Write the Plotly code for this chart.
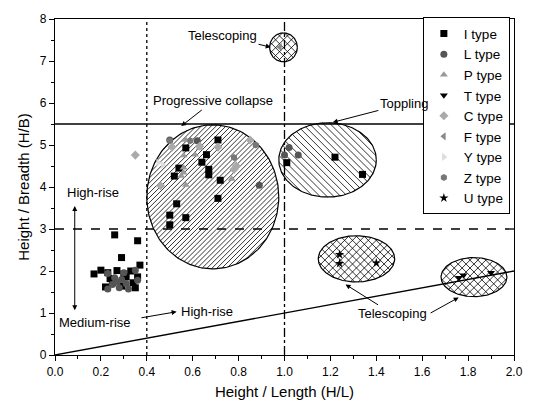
import numpy as np
import plotly.graph_objects as go

# ---------------- data ----------------
I_x = [0.26, 0.36, 0.29, 0.37, 0.17, 0.20, 0.23, 0.27, 0.31, 0.34, 0.25, 0.29, 0.22, 0.35, 0.30, 0.36, 0.33, 0.24,
       0.71, 0.57, 0.66, 0.64, 0.54, 0.67, 0.52, 0.67, 0.72, 0.71, 0.53, 0.50, 0.57, 0.50,
       1.01, 1.22, 1.34]
I_y = [2.86, 2.72, 2.32, 2.14, 1.93, 2.02, 1.96, 2.01, 1.86, 1.72, 1.72, 1.64, 1.62, 1.60, 1.93, 1.86, 2.00, 1.82,
       5.12, 4.93, 4.77, 4.59, 4.45, 4.42, 4.26, 4.29, 4.16, 3.73, 3.60, 3.33, 3.27, 3.10,
       4.58, 4.71, 4.30]
L_x = [0.23, 0.30, 0.35, 0.25, 0.28, 0.32, 0.23, 0.36, 0.29, 0.26, 0.31, 0.27,
       0.50, 0.62, 0.89, 1.02, 1.00, 1.06]
L_y = [1.94, 1.96, 2.02, 1.68, 1.60, 1.57, 1.57, 1.78, 1.80, 1.84, 1.70, 1.74,
       5.12, 5.10, 4.04, 4.94, 4.76, 4.76]
P_x = [0.57, 0.61, 0.56, 0.56, 0.56, 0.77, 0.63, 0.55, 0.57]
P_y = [5.12, 4.77, 4.75, 4.46, 4.34, 4.19, 4.93, 4.26, 4.05]
T_x = [1.76, 1.90, 1.78]
T_y = [1.84, 1.96, 1.90]
C_x = [0.35, 0.46, 0.51, 0.71, 0.63, 0.85, 0.78, 0.79]
C_y = [4.76, 4.03, 4.95, 4.95, 4.97, 5.12, 4.42, 4.50]
F_x = [0.98]
F_y = [7.33]
Y_x = [0.45, 0.47]
Y_y = [4.58, 4.52]
Z_x = [0.59, 0.78, 0.875, 0.50]
Z_y = [5.10, 4.70, 5.00, 5.10]
U_x = [1.24, 1.24, 1.40]
U_y = [2.39, 2.18, 2.19]

# region ellipses: (x0, x1, y0, y1, hatch slopes, hatch spacing in px)
regions = [
    (0.40, 0.975, 2.05, 5.48, [1], 5),
    (0.975, 1.40, 3.76, 5.53, [-1], 7),
    (0.935, 1.056, 6.98, 7.67, [1, -1], 8),
    (1.147, 1.48, 1.74, 2.84, [1, -1], 8),
    (1.682, 1.969, 1.39, 2.32, [1, -1], 8),
]

W, H = 535, 412
ML, MR, MT, MB = 55, 15, 14, 57
XR, YR = [0, 2], [0, 8]
PX = (W - ML - MR) / (XR[1] - XR[0])   # pixels per x unit
PY = (H - MT - MB) / (YR[1] - YR[0])   # pixels per y unit

FONT = "Arial, Liberation Sans, sans-serif"
fig = go.Figure()

t = np.linspace(0, 2 * np.pi, 200)
for x0, x1, y0, y1, slopes, sp in regions:
    cx, cy, rx, ry = (x0 + x1) / 2, (y0 + y1) / 2, (x1 - x0) / 2, (y1 - y0) / 2
    fig.add_trace(go.Scatter(
        x=cx + rx * np.cos(t), y=cy + ry * np.sin(t), mode="lines",
        fill="toself", fillcolor="white",
        line=dict(color="black", width=1.2), showlegend=False, hoverinfo="skip"))
    # hatch lines clipped to ellipse (computed in pixel space)
    Rx, Ry = rx * PX, ry * PY
    hx, hy = [], []
    for m in slopes:
        cmax = np.sqrt(Rx ** 2 * m ** 2 + Ry ** 2)
        for c in np.arange(-cmax + sp / 2, cmax, sp):
            A = 1 / Rx ** 2 + m ** 2 / Ry ** 2
            B = 2 * m * c / Ry ** 2
            Cq = c ** 2 / Ry ** 2 - 1
            disc = B ** 2 - 4 * A * Cq
            if disc <= 0:
                continue
            for X in ((-B - np.sqrt(disc)) / (2 * A), (-B + np.sqrt(disc)) / (2 * A)):
                hx.append(cx + X / PX)
                hy.append(cy + (m * X + c) / PY)
            hx.append(None)
            hy.append(None)
    fig.add_trace(go.Scatter(x=hx, y=hy, mode="lines", line=dict(color="black", width=0.8),
                             showlegend=False, hoverinfo="skip"))

# reference lines
fig.add_trace(go.Scatter(x=[0, 2], y=[5.5, 5.5], mode="lines", line=dict(color="black", width=1.3), showlegend=False))
fig.add_trace(go.Scatter(x=[0, 2], y=[3, 3], mode="lines", line=dict(color="black", width=1.3, dash="dash"), showlegend=False))
fig.add_trace(go.Scatter(x=[0.4, 0.4], y=[0, 8], mode="lines", line=dict(color="black", width=1.3, dash="dot"), showlegend=False))
fig.add_trace(go.Scatter(x=[1.0, 1.0], y=[0, 8], mode="lines", line=dict(color="black", width=1.3, dash="dashdot"), showlegend=False))
fig.add_trace(go.Scatter(x=[0, 2], y=[0, 2], mode="lines", line=dict(color="black", width=1.3), showlegend=False))

series = [
    ("I type", I_x, I_y, "square", "black"),
    ("L type", L_x, L_y, "circle", "#555555"),
    ("P type", P_x, P_y, "triangle-up", "#999999"),
    ("T type", T_x, T_y, "triangle-down", "black"),
    ("C type", C_x, C_y, "diamond", "#aaaaaa"),
    ("F type", F_x, F_y, "triangle-left", "#888888"),
    ("Y type", Y_x, Y_y, "triangle-right", "#dddddd"),
    ("Z type", Z_x, Z_y, "hexagon", "#777777"),
    ("U type", U_x, U_y, "star", "black"),
]
for name, xs, ys, sym, col in series:
    fig.add_trace(go.Scatter(x=xs, y=ys, mode="markers", name=name,
                             marker=dict(symbol=sym, color=col, size=7, line=dict(width=0))))

ann_font = dict(family=FONT, size=13, color="black")
anns = [
    dict(text="Telescoping", x=0.94, y=7.33, ax=0.73, ay=7.6),
    dict(text="Progressive collapse", x=0.55, y=5.45, ax=0.69, ay=6.05),
    dict(text="Toppling", x=1.21, y=5.54, ax=1.52, ay=5.98),
    dict(text="Telescoping", x=1.266, y=1.68, ax=1.47, ay=0.98),
    dict(text="", x=1.759, y=1.37, ax=1.63, ay=0.98),
]
for a in anns:
    fig.add_annotation(text=a["text"], x=a["x"], y=a["y"], ax=a["ax"], ay=a["ay"],
                       axref="x", ayref="y", xref="x", yref="y", showarrow=True,
                       arrowhead=2, arrowsize=1, arrowwidth=1, arrowcolor="black",
                       font=ann_font, bgcolor="rgba(255,255,255,0)")

# high-rise / medium-rise
fig.add_annotation(text="", x=0.086, y=3.55, ax=0.086, ay=1.03, axref="x", ayref="y",
                   showarrow=True, arrowhead=2, arrowside="end+start", arrowwidth=1, arrowcolor="black")
fig.add_annotation(text="High-rise", x=0.165, y=3.88, showarrow=False, font=ann_font)
fig.add_annotation(text="Medium-rise", x=0.175, y=0.78, showarrow=False, font=ann_font)
fig.add_annotation(text="", x=0.53, y=1.03, ax=0.37, ay=0.88, axref="x", ayref="y",
                   showarrow=True, arrowhead=2, arrowwidth=1, arrowcolor="black")
fig.add_annotation(text="High-rise", x=0.54, y=1.03, xanchor="left", showarrow=False, font=ann_font)

axis_common = dict(showgrid=False, zeroline=False, showline=True, linecolor="black", linewidth=1.3,
                   mirror=True, ticks="outside", ticklen=5, tickwidth=1.3, tickcolor="black",
                   tickfont=dict(family=FONT, size=12, color="black"))
fig.update_xaxes(range=XR, tick0=0, dtick=0.2, tickformat=".1f",
                 minor=dict(dtick=0.1, ticks="outside", ticklen=3, tickcolor="black"),
                 title=dict(text="Height / Length (H/L)", font=dict(family=FONT, size=15, color="black"), standoff=8),
                 **axis_common)
fig.update_yaxes(range=YR, tick0=0, dtick=1,
                 minor=dict(dtick=0.5, ticks="outside", ticklen=3, tickcolor="black"),
                 title=dict(text="Height / Breadth (H/B)", font=dict(family=FONT, size=15, color="black"), standoff=6),
                 **axis_common)

fig.update_layout(
    width=W, height=H,
    margin=dict(l=ML, r=MR, t=MT, b=MB),
    plot_bgcolor="white", paper_bgcolor="white",
    font=dict(family=FONT, color="black"),
    legend=dict(x=0.991, y=1.005, xanchor="right", yanchor="top",
                bordercolor="black", borderwidth=1, bgcolor="white",
                font=dict(family=FONT, size=13.5, color="black"),
                itemsizing="trace", tracegroupgap=0),
)

fig.write_html("out.html")
